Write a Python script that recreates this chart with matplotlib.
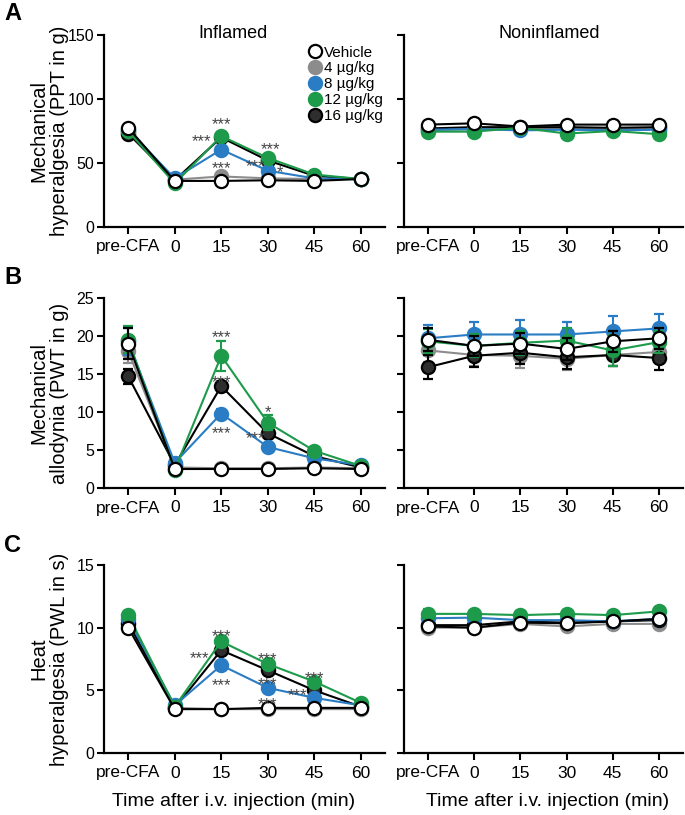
import matplotlib
matplotlib.use("Agg")
import matplotlib.pyplot as plt
from matplotlib.lines import Line2D

plt.rcParams["font.family"] = ["Liberation Sans", "DejaVu Sans"]

times = ["pre-CFA", "0", "15", "30", "45", "60"]
groups = ["Vehicle", "4 µg/kg", "8 µg/kg", "12 µg/kg", "16 µg/kg"]

# A - mechanical hyperalgesia (PPT in g)
a_inf_veh = [77.5, 36, 36, 36.5, 36, 37.5]
a_inf_4 = [74, 37, 39.5, 38, 37.5, 37.5]
a_inf_8 = [76, 38, 60.5, 44, 38, 37.5]
a_inf_12 = [75, 34, 71, 54, 41, 37.5]
a_inf_16 = [73, 36.5, 70, 52, 40, 37.5]
a_non_veh = [80, 81, 78.5, 80, 80, 80]
a_non_4 = [75.5, 76.5, 77, 76.5, 76.5, 76.5]
a_non_8 = [76, 76.5, 75.5, 76, 75.5, 76]
a_non_12 = [74.5, 74.5, 77.5, 73, 75, 72.5]
a_non_16 = [77, 78, 78, 78, 77.5, 78]
a_err = [2, 1, 1.5, 1.5, 1, 1]

# B - mechanical allodynia (PWT in g)
b_inf_veh = [19.0, 2.5, 2.5, 2.5, 2.6, 2.5]
b_inf_4 = [18.0, 2.7, 2.6, 2.6, 2.7, 2.6]
b_inf_8 = [19.3, 3.3, 9.8, 5.4, 3.9, 3.0]
b_inf_12 = [19.5, 2.4, 17.4, 8.6, 4.9, 2.9]
b_inf_16 = [14.7, 3.0, 13.4, 7.2, 4.2, 2.7]
b_inf_err_veh = [2.0, 0.3, 0.2, 0.2, 0.2, 0.2]
b_inf_err_4 = [1.5, 0.3, 0.3, 0.3, 0.3, 0.3]
b_inf_err_8 = [1.8, 0.4, 0.6, 0.4, 0.4, 0.3]
b_inf_err_12 = [1.8, 0.3, 2.0, 1.0, 0.4, 0.3]
b_inf_err_16 = [1.0, 0.3, 0.5, 0.5, 0.4, 0.3]
b_non_veh = [19.5, 18.7, 19.0, 18.3, 19.3, 19.7]
b_non_4 = [18.1, 17.5, 17.4, 17.0, 17.5, 17.9]
b_non_8 = [19.7, 20.2, 20.2, 20.2, 20.6, 21.0]
b_non_12 = [19.3, 18.7, 19.1, 19.4, 18.1, 19.2]
b_non_16 = [15.9, 17.4, 17.8, 17.2, 17.5, 17.1]
b_non_err_veh = [1.5, 1.3, 1.4, 1.4, 1.4, 1.4]
b_non_err_4 = [1.5, 1.5, 1.6, 1.5, 1.5, 1.5]
b_non_err_8 = [1.8, 1.7, 1.9, 1.7, 2.0, 1.9]
b_non_err_12 = [1.6, 1.5, 1.6, 1.6, 2.0, 1.5]
b_non_err_16 = [1.6, 1.5, 1.5, 1.6, 1.5, 1.6]

# C - heat hyperalgesia (PWL in s)
c_inf_veh = [10.0, 3.5, 3.5, 3.6, 3.6, 3.6]
c_inf_4 = [10.2, 3.6, 3.5, 3.5, 3.5, 3.5]
c_inf_8 = [10.7, 3.8, 7.0, 5.2, 4.4, 3.8]
c_inf_12 = [11.0, 3.7, 8.9, 7.1, 5.7, 4.0]
c_inf_16 = [10.4, 3.6, 8.2, 6.6, 5.0, 3.7]
c_non_veh = [10.1, 10.0, 10.4, 10.35, 10.5, 10.7]
c_non_4 = [10.0, 10.0, 10.3, 10.1, 10.3, 10.3]
c_non_8 = [10.75, 10.8, 10.6, 10.6, 10.5, 10.7]
c_non_12 = [11.1, 11.1, 11.0, 11.1, 11.0, 11.3]
c_non_16 = [10.2, 10.2, 10.5, 10.4, 10.5, 10.6]
c_err = [0.35, 0.25, 0.3, 0.3, 0.3, 0.3]

# group styles: line colour, face colour, edge colour, zorder
styles = {
    "Vehicle": ("black", "white", "black", 6),
    "4 µg/kg": ("#8c8c8c", "#8c8c8c", "#8c8c8c", 2),
    "8 µg/kg": ("#2a7cc4", "#2a7cc4", "#2a7cc4", 4),
    "12 µg/kg": ("#1d9a4a", "#1d9a4a", "#1d9a4a", 5),
    "16 µg/kg": ("black", "#2e2e2e", "black", 3),
}

# significance marks: (group, time index, text, dx pt, dy pt)
stars_a = [("12 µg/kg", 2, "***", 0, 12), ("16 µg/kg", 2, "***", -14, 1),
           ("8 µg/kg", 2, "***", 0, -10), ("12 µg/kg", 3, "***", 2, 10),
           ("16 µg/kg", 3, "***", -9, -1), ("8 µg/kg", 3, "*", 9, 2)]
stars_b = [("12 µg/kg", 2, "***", 0, 17), ("16 µg/kg", 2, "***", 0, 6),
           ("8 µg/kg", 2, "***", 0, -11), ("12 µg/kg", 3, "*", 0, 11),
           ("16 µg/kg", 3, "***", -9, 0)]
stars_c = [("12 µg/kg", 2, "***", 0, 7), ("16 µg/kg", 2, "***", -16, -2),
           ("8 µg/kg", 2, "***", 0, -11), ("12 µg/kg", 3, "***", 0, 7),
           ("8 µg/kg", 3, "***", 0, 6), ("8 µg/kg", 3, "***", 0, -8),
           ("12 µg/kg", 4, "***", 0, 6), ("16 µg/kg", 4, "***", -12, 0)]

W, H = 685, 815
fig = plt.figure(figsize=(W / 100, H / 100), dpi=100)


def make_ax(x0, x1, ytop, ybot):
    return fig.add_axes([x0 / W, 1 - ybot / H, (x1 - x0) / W, (ybot - ytop) / H])


def draw(ax, series, errs, ymax, step, show_labels):
    x = list(range(len(times)))
    for g in groups:
        lc, fc, ec, z = styles[g]
        ax.errorbar(x, series[g], yerr=errs[g], color=lc, ecolor=lc, lw=1.5,
                    elinewidth=1.5, capsize=3.5, capthick=1.5, marker="o", ms=9.5,
                    mfc=fc, mec=ec, mew=1.6, zorder=z, clip_on=False)
    ax.set_xlim(-0.52, 5.52)
    ax.set_ylim(0, ymax)
    ax.set_xticks(x)
    ax.set_xticklabels(times, fontsize=12.5)
    ax.set_yticks(range(0, ymax + 1, step))
    if not show_labels:
        ax.set_yticklabels([])
    ax.tick_params(axis="y", labelsize=11.5, width=1.5, length=5, pad=2)
    ax.tick_params(axis="x", width=1.5, length=5, pad=4)
    for s in ["top", "right"]:
        ax.spines[s].set_visible(False)
    for s in ["left", "bottom"]:
        ax.spines[s].set_linewidth(1.6)


def stars(ax, series, marks):
    # asterisk ink sits high in the line box, so anchor on the baseline
    for g, i, txt, dx, dy in marks:
        ax.annotate(txt, (i, series[g][i]), xytext=(dx, dy - 7), textcoords="offset points",
                    ha="center", va="baseline", fontsize=12, color="#444444", zorder=10)


def pack(*vals):
    return dict(zip(groups, vals))


def same(err):
    return pack(err, err, err, err, err)


LX0, LX1, RX0, RX1 = 104, 385, 404, 683
rows = [(35, 227), (298, 488), (565, 753)]

axA1 = make_ax(LX0, LX1, *rows[0])
axA2 = make_ax(RX0, RX1, *rows[0])
axB1 = make_ax(LX0, LX1, *rows[1])
axB2 = make_ax(RX0, RX1, *rows[1])
axC1 = make_ax(LX0, LX1, *rows[2])
axC2 = make_ax(RX0, RX1, *rows[2])

sA1 = pack(a_inf_veh, a_inf_4, a_inf_8, a_inf_12, a_inf_16)
sA2 = pack(a_non_veh, a_non_4, a_non_8, a_non_12, a_non_16)
draw(axA1, sA1, same(a_err), 150, 50, True)
draw(axA2, sA2, same(a_err), 150, 50, False)
stars(axA1, sA1, stars_a)

sB1 = pack(b_inf_veh, b_inf_4, b_inf_8, b_inf_12, b_inf_16)
sB2 = pack(b_non_veh, b_non_4, b_non_8, b_non_12, b_non_16)
draw(axB1, sB1, pack(b_inf_err_veh, b_inf_err_4, b_inf_err_8, b_inf_err_12, b_inf_err_16), 25, 5, True)
draw(axB2, sB2, pack(b_non_err_veh, b_non_err_4, b_non_err_8, b_non_err_12, b_non_err_16), 25, 5, False)
stars(axB1, sB1, stars_b)

sC1 = pack(c_inf_veh, c_inf_4, c_inf_8, c_inf_12, c_inf_16)
sC2 = pack(c_non_veh, c_non_4, c_non_8, c_non_12, c_non_16)
draw(axC1, sC1, same(c_err), 15, 5, True)
draw(axC2, sC2, same(c_err), 15, 5, False)
stars(axC1, sC1, stars_c)

axA1.set_ylabel("Mechanical\nhyperalgesia (PPT in g)", fontsize=14.5, linespacing=1.1)
axB1.set_ylabel("Mechanical\nallodynia (PWT in g)", fontsize=14.5, linespacing=1.1)
axC1.set_ylabel("Heat\nhyperalgesia (PWL in s)", fontsize=14.5, linespacing=1.1)
for ax in (axA1, axB1, axC1):
    ax.yaxis.set_label_coords(-0.125, 0.5)

axC1.set_xlabel("Time after i.v. injection (min)", fontsize=14)
axC2.set_xlabel("Time after i.v. injection (min)", fontsize=14)
axC1.xaxis.set_label_coords(0.46, -0.215)
axC2.xaxis.set_label_coords(0.516, -0.215)

axA1.text(0.46, 1.01, "Inflamed", transform=axA1.transAxes, ha="center", va="center", fontsize=13)
axA2.text(0.52, 1.01, "Noninflamed", transform=axA2.transAxes, ha="center", va="center", fontsize=13)

handles = []
for g in groups:
    lc, fc, ec, z = styles[g]
    handles.append(Line2D([], [], ls="none", marker="o", ms=9.5, mfc=fc, mec=ec, mew=1.6))
axA1.legend(handles, groups, loc="upper left", bbox_to_anchor=(0.73, 0.945), frameon=False,
            fontsize=11, handlelength=0.8, handletextpad=0.15, labelspacing=0.12,
            borderaxespad=0, borderpad=0)

for letter, ypix in [("A", 14), ("B", 278), ("C", 545)]:
    fig.text(4 / W, 1 - ypix / H, letter, fontsize=17, fontweight="bold", va="center", ha="left")

fig.savefig("out.png", dpi=100)
